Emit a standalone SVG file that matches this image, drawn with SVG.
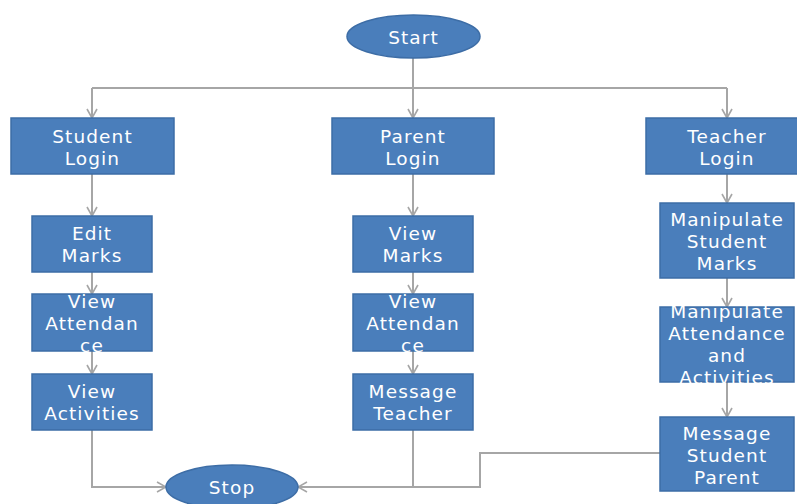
<svg xmlns="http://www.w3.org/2000/svg" width="797" height="504" viewBox="0 0 797 504">
<style>
.n{fill:#4a7ebb;stroke:#3d6da6;stroke-width:1.5}
.t{fill:#ffffff;font-family:"DejaVu Sans",Verdana,sans-serif;font-size:18.5px;letter-spacing:1.1px;text-anchor:middle}
.c{fill:none;stroke:#a6a6a6;stroke-width:2}
</style>
<defs>
<marker id="a" viewBox="0 0 12 12" refX="11" refY="6" markerWidth="12" markerHeight="12" markerUnits="userSpaceOnUse" orient="auto">
<polyline points="2,1 11,6 2,11" fill="none" stroke="#a6a6a6" stroke-width="1.6"/>
</marker>
</defs>
<rect width="797" height="504" fill="#ffffff"/>
<g id="connectors">
<path class="c" d="M413,58 V118" marker-end="url(#a)"/>
<path class="c" d="M92,88 H727"/>
<path class="c" d="M92,88 V118" marker-end="url(#a)"/>
<path class="c" d="M727,88 V118" marker-end="url(#a)"/>
<path class="c" d="M92,174 V216" marker-end="url(#a)"/>
<path class="c" d="M92,272 V294" marker-end="url(#a)"/>
<path class="c" d="M92,351 V374" marker-end="url(#a)"/>
<path class="c" d="M413,174 V216" marker-end="url(#a)"/>
<path class="c" d="M413,272 V294" marker-end="url(#a)"/>
<path class="c" d="M413,351 V374" marker-end="url(#a)"/>
<path class="c" d="M727,174 V203" marker-end="url(#a)"/>
<path class="c" d="M727,278 V307" marker-end="url(#a)"/>
<path class="c" d="M727,382 V417" marker-end="url(#a)"/>
<path class="c" d="M92,430 V487 H166" marker-end="url(#a)"/>
<path class="c" d="M413,430 V487"/>
<path class="c" d="M660,453 H480 V487 H298" marker-end="url(#a)"/>
</g>
<g id="start">
<ellipse class="n" cx="413.5" cy="36.5" rx="66.5" ry="21.5"/>
<text class="t" x="413.5" y="43.5">Start</text>
</g>
<g id="student-login">
<rect class="n" x="11" y="118" width="163" height="56"/>
<text class="t" x="92.5" y="143">Student</text>
<text class="t" x="92.5" y="165">Login</text>
</g>
<g id="parent-login">
<rect class="n" x="332" y="118" width="162" height="56"/>
<text class="t" x="413" y="143">Parent</text>
<text class="t" x="413" y="165">Login</text>
</g>
<g id="teacher-login">
<rect class="n" x="646" y="118" width="162" height="56"/>
<text class="t" x="727" y="143">Teacher</text>
<text class="t" x="727" y="165">Login</text>
</g>
<g id="edit-marks">
<rect class="n" x="32" y="216" width="120" height="56"/>
<text class="t" x="92" y="240">Edit</text>
<text class="t" x="92" y="262">Marks</text>
</g>
<g id="student-view-attendance">
<rect class="n" x="32" y="294" width="120" height="57"/>
<text class="t" x="92" y="308">View</text>
<text class="t" x="92" y="330">Attendan</text>
<text class="t" x="92" y="352">ce</text>
</g>
<g id="view-activities">
<rect class="n" x="32" y="374" width="120" height="56"/>
<text class="t" x="92" y="398">View</text>
<text class="t" x="92" y="420">Activities</text>
</g>
<g id="view-marks">
<rect class="n" x="353" y="216" width="120" height="56"/>
<text class="t" x="413" y="240">View</text>
<text class="t" x="413" y="262">Marks</text>
</g>
<g id="parent-view-attendance">
<rect class="n" x="353" y="294" width="120" height="57"/>
<text class="t" x="413" y="308">View</text>
<text class="t" x="413" y="330">Attendan</text>
<text class="t" x="413" y="352">ce</text>
</g>
<g id="message-teacher">
<rect class="n" x="353" y="374" width="120" height="56"/>
<text class="t" x="413" y="398">Message</text>
<text class="t" x="413" y="420">Teacher</text>
</g>
<g id="manipulate-marks">
<rect class="n" x="660" y="203" width="134" height="75"/>
<text class="t" x="727" y="226">Manipulate</text>
<text class="t" x="727" y="248">Student</text>
<text class="t" x="727" y="270">Marks</text>
</g>
<g id="manipulate-attendance">
<rect class="n" x="660" y="307" width="134" height="75"/>
<text class="t" x="727" y="318">Manipulate</text>
<text class="t" x="727" y="340">Attendance</text>
<text class="t" x="727" y="362">and</text>
<text class="t" x="727" y="384">Activities</text>
</g>
<g id="message-student-parent">
<rect class="n" x="660" y="417" width="134" height="74"/>
<text class="t" x="727" y="440">Message</text>
<text class="t" x="727" y="462">Student</text>
<text class="t" x="727" y="484">Parent</text>
</g>
<g id="stop">
<ellipse class="n" cx="232" cy="487" rx="66" ry="22"/>
<text class="t" x="232" y="494">Stop</text>
</g>
</svg>
